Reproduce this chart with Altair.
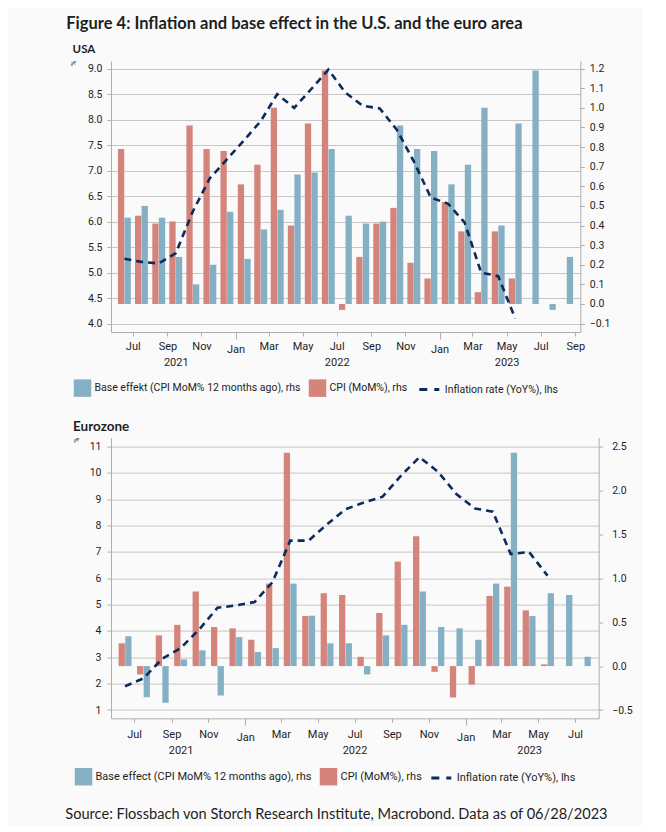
import altair as alt
import pandas as pd

TITLE = "Figure 4: Inflation and base effect in the U.S. and the euro area"
SOURCE = "Source: Flossbach von Storch Research Institute, Macrobond. Data as of 06/28/2023"
CPI_LABEL = "CPI (MoM%), rhs"
LINE_LABEL = "Inflation rate (YoY%), lhs"
US_BASE_LABEL = "Base effekt (CPI MoM% 12 months ago), rhs"
EU_BASE_LABEL = "Base effect (CPI MoM% 12 months ago), rhs"

# ---------------- USA: months Jun 2021 .. Aug 2023 ----------------
us_months = pd.date_range("2021-06-01", "2023-08-01", freq="MS")
us_cpi_mom = [0.79, 0.45, 0.41, 0.42, 0.91, 0.79, 0.78, 0.61, 0.71, 1.00, 0.40, 0.92,
              1.19, -0.03, 0.24, 0.41, 0.49, 0.21, 0.13, 0.52, 0.37, 0.06, 0.37, 0.13]
us_base_effect = [0.44, 0.50, 0.44, 0.24, 0.10, 0.20, 0.47, 0.23, 0.38, 0.48, 0.66, 0.67,
                  0.79, 0.45, 0.41, 0.42, 0.91, 0.79, 0.78, 0.61, 0.71, 1.00, 0.40, 0.92,
                  1.19, -0.03, 0.24]
us_inflation_yoy = [5.27, 5.21, 5.18, 5.38, 6.20, 6.85, 7.22, 7.60, 7.97, 8.50, 8.23, 8.60,
                    8.98, 8.53, 8.27, 8.22, 7.80, 7.18, 6.47, 6.35, 5.98, 5.00, 4.93, 4.10]
us_left_ticks = [4.0, 4.5, 5.0, 5.5, 6.0, 6.5, 7.0, 7.5, 8.0, 8.5, 9.0]
us_right_ticks = [-0.1, 0.0, 0.1, 0.2, 0.3, 0.4, 0.5, 0.6, 0.7, 0.8, 0.9, 1.0, 1.1, 1.2]
us_month_ticks = [(2021, 7), (2021, 9), (2021, 11), (2022, 1), (2022, 3), (2022, 5), (2022, 7),
                  (2022, 9), (2022, 11), (2023, 1), (2023, 3), (2023, 5), (2023, 7), (2023, 9)]
us_year_marks = [(2021, 9, 16), (2022, 7, 1), (2023, 5, 1)]

# ---------------- Eurozone: months Jun 2021 .. Jul 2023 ----------------
eu_months = pd.date_range("2021-06-01", "2023-07-01", freq="MS")
eu_hicp_mom = [0.26, -0.095, 0.35, 0.47, 0.85, 0.445, 0.43, 0.30, 0.94, 2.43, 0.57, 0.83,
               0.81, 0.106, 0.605, 1.19, 1.48, -0.065, -0.357, -0.21, 0.80, 0.905, 0.635, 0.02]
eu_base_effect = [0.34, -0.354, -0.418, 0.076, 0.18, -0.335, 0.33, 0.16, 0.205, 0.94, 0.574, 0.26,
                  0.26, -0.095, 0.35, 0.47, 0.85, 0.445, 0.43, 0.30, 0.94, 2.43, 0.57, 0.83,
                  0.81, 0.106]
eu_inflation_yoy = [1.90, 2.20, 2.95, 3.35, 4.05, 4.88, 4.97, 5.10, 5.85, 7.43, 7.43, 8.05,
                    8.62, 8.88, 9.10, 9.90, 10.60, 10.05, 9.20, 8.65, 8.53, 6.92, 7.00, 6.10]
eu_left_ticks = [1, 2, 3, 4, 5, 6, 7, 8, 9, 10, 11]
eu_right_ticks = [-0.5, 0.0, 0.5, 1.0, 1.5, 2.0, 2.5]
eu_month_ticks = [(2021, 7), (2021, 9), (2021, 11), (2022, 1), (2022, 3), (2022, 5), (2022, 7),
                  (2022, 9), (2022, 11), (2023, 1), (2023, 3), (2023, 5), (2023, 7)]
eu_year_marks = [(2021, 9, 16), (2022, 7, 1), (2023, 4, 16)]

BLUE = "#85b0c4"
RED = "#d4847a"
NAVY = "#0c2b5c"
GRID = "#c6c6c6"
AXC = "#aeaeae"
TXT = "#1e1e1e"
FONT = "Roboto"
TFONT = "Lato"


def mid_month(months):
    return months + pd.to_timedelta(months.days_in_month / 2.0, unit="D")


def dt(y, m, d=1):
    return alt.DateTime(year=y, month=m, date=d)


def panel(title, months, cpi, base, yoy, base_label, ldom, lticks, lfmt, rdom, rticks,
          xdom, mticks, ymarks, W, H, geo):
    mids = mid_month(months)
    rows = []
    for i, d in enumerate(mids):
        if i < len(base):
            rows.append({"date": d, "series": base_label, "value": base[i]})
        if i < len(cpi):
            rows.append({"date": d, "series": CPI_LABEL, "value": cpi[i]})
    bars = pd.DataFrame(rows)
    line_df = pd.DataFrame({"date": mids[:len(yoy)], "series": LINE_LABEL, "value": yoy})

    xscale = alt.Scale(domain=xdom)
    x_month = alt.X(
        "date:T", scale=xscale,
        axis=alt.Axis(orient="bottom", values=[dt(y, m) for y, m in mticks], format="%b", title=None,
                      grid=False, domainColor=AXC, tickColor=AXC,
                      tickSize={"condition": {"test": "month(datum.value) == 0", "value": 7}, "value": 4},
                      labelPadding=geo["mpad"], labelFont=FONT, labelFontSize=11, labelColor=TXT),
    )
    x_year = alt.X(
        "date:T", scale=xscale,
        axis=alt.Axis(orient="bottom", values=[dt(y, m, d) for y, m, d in ymarks], format="%Y",
                      title=None, grid=False, domain=False, ticks=False, tickSize=0,
                      labelPadding=geo["ypad"], labelFont=FONT, labelFontSize=11, labelColor=TXT),
    )
    fill_scale = alt.Scale(domain=[base_label, CPI_LABEL], range=[BLUE, RED])
    fill_legend = alt.Legend(orient="none", legendX=geo["lx"], legendY=geo["ly"], direction="horizontal",
                             title=None, symbolType="square", symbolSize=306, symbolStrokeWidth=0,
                             labelFont=FONT, labelFontSize=geo["lfs"], labelColor=TXT, labelOffset=3,
                             labelLimit=0, columnPadding=8, padding=0, symbolOpacity=1)
    y_right = alt.Y("value:Q", scale=alt.Scale(domain=rdom, nice=False, zero=False),
                    axis=alt.Axis(orient="right", values=rticks, format=".1f", title=None, grid=False,
                                  tickSize=4, labelPadding=geo["rpad"], labelFont=FONT, labelFontSize=10.5,
                                  labelColor=TXT, domainColor=AXC, tickColor=AXC))
    red = (alt.Chart(bars).transform_filter(alt.datum.series == CPI_LABEL)
           .mark_bar(size=6.3, xOffset=-3.3)
           .encode(x=x_month, y=y_right, fill=alt.Fill("series:N", scale=fill_scale, legend=fill_legend)))
    blue = (alt.Chart(bars).transform_filter(alt.datum.series == base_label)
            .mark_bar(size=6.3, xOffset=3.3)
            .encode(x=x_month, y=y_right, fill=alt.Fill("series:N", scale=fill_scale, legend=fill_legend)))
    line = (alt.Chart(line_df)
            .mark_line(strokeDash=[7, 5], strokeWidth=2.6)
            .encode(
                x=x_year,
                y=alt.Y("value:Q", scale=alt.Scale(domain=ldom, nice=False, zero=False),
                        axis=alt.Axis(orient="left", values=lticks, format=lfmt, title="%", grid=True,
                                      gridColor=GRID, gridWidth=1, tickSize=4, labelPadding=geo["lpad"],
                                      labelFont=FONT, labelFontSize=10.5, labelColor=TXT,
                                      domainColor=AXC, tickColor=AXC,
                                      titleFontSize=7, titleFont=FONT, titleFontWeight="normal",
                                      titleX=geo["tx"], titleY=geo["ty"], titleColor=TXT)),
                stroke=alt.Stroke("series:N", scale=alt.Scale(domain=[LINE_LABEL], range=[NAVY]),
                                  legend=alt.Legend(orient="none", legendX=geo["lx2"], legendY=geo["ly2"],
                                                    title=None, symbolType="stroke", symbolSize=400,
                                                    symbolStrokeWidth=3, symbolDash=[8, 7],
                                                    labelFont=FONT, labelFontSize=geo["lfs"], labelColor=TXT,
                                                    labelOffset=4, labelLimit=0, padding=0)),
            ))
    return (alt.layer(alt.layer(red, blue), line)
            .resolve_scale(y="independent")
            .resolve_axis(x="independent")
            .properties(width=W, height=H,
                        title=alt.TitleParams(title, anchor="start", frame="group", dx=geo["tdx"],
                                              offset=geo["toff"], font=TFONT, fontSize=geo["tfs"],
                                              fontWeight="bold", color=TXT)))


top = panel("USA", us_months, us_cpi_mom, us_base_effect, us_inflation_yoy, US_BASE_LABEL,
            [3.835, 9.149], us_left_ticks, ".1f", [-0.1428, 1.2387], us_right_ticks,
            [dt(2021, 6), dt(2023, 9)], us_month_ticks, us_year_marks, 469.3, 271,
            dict(mpad=4, ypad=24, lpad=5, rpad=5, lx=-37.5, ly=318, lx2=306.8, ly2=317,
                 tx=-34.7, ty=2, tdx=-38.4, toff=5, tfs=11.5, lfs=10.5))
bottom = panel("Eurozone", eu_months, eu_hicp_mom, eu_base_effect, eu_inflation_yoy, EU_BASE_LABEL,
               [0.685, 11.342], eu_left_ticks, "d", [-0.5945, 2.6026], eu_right_ticks,
               [dt(2021, 6), dt(2023, 8)], eu_month_ticks, eu_year_marks, 487.7, 280.7,
               dict(mpad=6, ypad=26, lpad=6, rpad=9, lx=-36.5, ly=330, lx2=318.8, ly2=329,
                    tx=-32, ty=2, tdx=-38, toff=4, tfs=13.5, lfs=11))

footer = (alt.Chart(pd.DataFrame({"t": [SOURCE]}))
          .mark_text(align="left", baseline="alphabetic", font=TFONT, fontSize=14.6, color=TXT,
                     dx=-46.2, dy=-6)
          .encode(text="t:N")
          .properties(width=1, height=1))

chart = (alt.vconcat(top, bottom, footer, spacing=105.6, bounds="flush")
         .resolve_scale(x="independent", y="independent", fill="independent", stroke="independent")
         .properties(title=alt.TitleParams(TITLE, anchor="start", frame="group", dx=-44.7, offset=11,
                                           font=TFONT, fontSize=16.5, fontWeight="bold", color=TXT),
                     padding={"left": 57, "top": 8, "right": 10, "bottom": 0})
         .configure(background="#fafafa")
         .configure_view(stroke=None))

chart.save("out.html", embed_options={"renderer": "svg", "actions": False})
